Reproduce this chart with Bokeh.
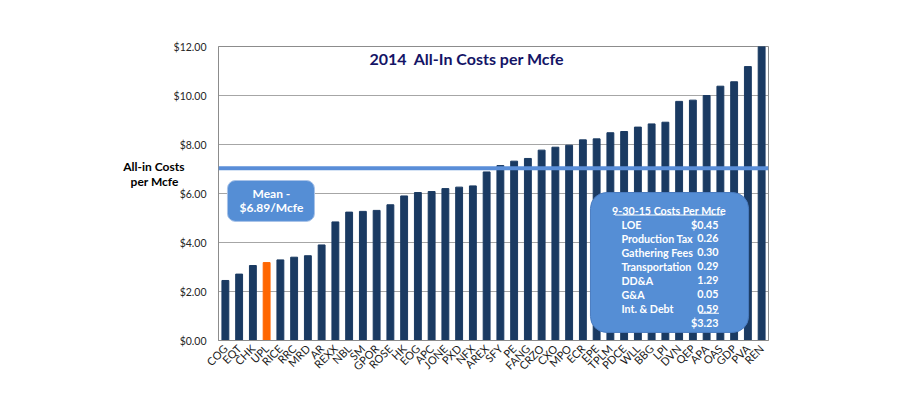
import numpy as np
from bokeh.plotting import figure
from bokeh.models import (Range1d, FixedTicker, NumeralTickFormatter, LinearAxis,
                          Span, Label, BoxAnnotation, ColumnDataSource)
from bokeh.embed import file_html
from bokeh.resources import INLINE

# ---------------- data ----------------
companies = ["COG", "EQT", "CHK", "UPL", "RICE", "RRC", "MRD", "AR", "REXX", "NBL",
             "SM", "GPOR", "ROSE", "HK", "EOG", "APC", "JONE", "PXD", "NFX", "AREX",
             "SFY", "PE", "FANG", "CRZO", "CXO", "MPO", "ECR", "EPE", "TPLM", "PDCE",
             "WLL", "BBG", "LPI", "DVN", "QEP", "APA", "OAS", "GDP", "PVA", "REN"]
costs = [2.45, 2.71, 3.06, 3.18, 3.29, 3.40, 3.46, 3.90, 4.84, 5.24,
         5.27, 5.31, 5.54, 5.90, 6.04, 6.08, 6.20, 6.26, 6.31, 6.88,
         7.14, 7.32, 7.43, 7.77, 7.89, 7.97, 8.19, 8.23, 8.48, 8.53,
         8.71, 8.84, 8.91, 9.76, 9.81, 10.00, 10.38, 10.56, 11.18, 12.00]
highlight = "UPL"
all_in_level = 7.03
mean_text = ["Mean -", "$6.89/Mcfe"]
y_ticks = [0, 2, 4, 6, 8, 10, 12]
side_label_lines = ["All-in Costs", "per Mcfe\u00a0\u00a0"]
breakdown_title = "9-30-15 Costs Per Mcfe"
breakdown_labels = ["LOE", "Production Tax", "Gathering Fees", "Transportation",
                    "DD&A", "G&A", "Int. & Debt"]
breakdown_values = ["$0.45", "0.26", "0.30", "0.29", "1.29", "0.05", "0.59"]
breakdown_total = "$3.23"

# ---------------- styles ----------------
FONT = "Lato"
NAVY = "#1A3A62"
ORANGE = "#FF6600"
BOXBLUE = "#558ED5"

idx = list(range(len(companies)))
colors = [ORANGE if c == highlight else NAVY for c in companies]
src = ColumnDataSource(dict(x=idx, top=costs, color=colors, name=companies))

p = figure(width=900, height=413,
           x_range=Range1d(-0.5, len(companies) - 0.5),
           y_range=Range1d(0, 12),
           output_backend="svg", toolbar_location=None,
           min_border_left=218, min_border_right=132,
           min_border_top=46, min_border_bottom=73)

p.vbar(x="x", top="top", width=0.5, color="color", source=src)

# grid / frame
p.xgrid.visible = False
p.ygrid.ticker = FixedTicker(ticks=y_ticks)
p.ygrid.grid_line_color = "#A6A6A6"
p.outline_line_color = "#8C8C8C"
p.background_fill_color = "white"
p.border_fill_color = "white"

# y axis
p.yaxis.ticker = FixedTicker(ticks=y_ticks)
p.yaxis.formatter = NumeralTickFormatter(format="$0.00")
p.yaxis.major_tick_line_color = None
p.yaxis.minor_tick_line_color = None
p.yaxis.major_tick_out = 0
p.yaxis.major_label_standoff = 12
p.yaxis.axis_line_color = "#8C8C8C"
p.yaxis.major_label_text_font = FONT
p.yaxis.major_label_text_font_size = "10.5px"
p.yaxis.major_label_text_color = "#262626"

# side label ("All-in Costs / per Mcfe") via an extra left axis
side_pos = [7.10, 6.49]
side_axis = LinearAxis(ticker=FixedTicker(ticks=side_pos),
                       major_label_overrides={v: t for v, t in zip(side_pos, side_label_lines)},
                       axis_line_color=None, major_tick_line_color=None,
                       minor_tick_line_color=None, major_tick_out=0,
                       major_label_standoff=-14,
                       major_label_text_font=FONT, major_label_text_font_style="bold",
                       major_label_text_font_size="12px", major_label_text_color="black")
p.add_layout(side_axis, "left")

# x axis
p.xaxis.ticker = FixedTicker(ticks=idx)
p.xaxis.major_label_overrides = {i: c for i, c in zip(idx, companies)}
p.xaxis.major_label_orientation = np.pi / 4
p.xaxis.major_tick_line_color = None
p.xaxis.minor_tick_line_color = None
p.xaxis.major_tick_out = 0
p.xaxis.major_label_standoff = 6
p.xaxis.axis_line_color = "#8C8C8C"
p.xaxis.major_label_text_font = FONT
p.xaxis.major_label_text_font_size = "11px"
p.xaxis.major_label_text_color = "#1a1a1a"

# all-in cost line
p.add_layout(Span(location=all_in_level, dimension="width",
                  line_color="#5A8ED8", line_width=4))

X0 = -0.5  # frame left edge in data units

# title
p.add_layout(Label(x=X0 + 18.07, y=11.5, text="2014\u00a0 All-In Costs per Mcfe",
                   text_align="center", text_baseline="middle",
                   text_font=FONT, text_font_style="bold", text_font_size="16px",
                   text_color="#141466"))

# mean box
p.add_layout(BoxAnnotation(left=X0 + 0.65, right=X0 + 6.98, bottom=4.86, top=6.53,
                           fill_color=BOXBLUE, fill_alpha=1, line_color="#A9C3E8",
                           line_alpha=1, line_width=1, border_radius=8))
for i, t in enumerate(mean_text):
    p.add_layout(Label(x=X0 + 3.85, y=6.0 - i * 0.57, text=t,
                       text_align="center", text_baseline="middle",
                       text_font=FONT, text_font_style="bold", text_font_size="12px",
                       text_color="white"))

# cost breakdown box
p.add_layout(BoxAnnotation(left=X0 + 27.05, right=X0 + 38.55, bottom=0.33, top=6.04,
                           fill_color=BOXBLUE, fill_alpha=1, line_color="#4A7CC0",
                           line_alpha=1, line_width=1, border_radius=16))
row_y0 = 5.31
row_dy = 0.572
lab_kw = dict(text_baseline="middle", text_font=FONT,
              text_font_style="bold", text_font_size="10.7px", text_color="white")
p.add_layout(Label(x=X0 + 32.76, y=row_y0, text=breakdown_title, text_align="center", **lab_kw))
p.add_layout(BoxAnnotation(left=X0 + 28.85, right=X0 + 36.7, bottom=row_y0 - 0.21,
                           top=row_y0 - 0.17, fill_color="white", fill_alpha=1,
                           line_color=None))
for i, (lab, val) in enumerate(zip(breakdown_labels, breakdown_values)):
    yy = row_y0 - (i + 1) * row_dy
    p.add_layout(Label(x=X0 + 29.3, y=yy, text=lab, text_align="left", **lab_kw))
    p.add_layout(Label(x=X0 + 36.36, y=yy, text=val, text_align="right", **lab_kw))
yy_last = row_y0 - len(breakdown_labels) * row_dy
p.add_layout(BoxAnnotation(left=X0 + 34.95, right=X0 + 36.4, bottom=yy_last - 0.21,
                           top=yy_last - 0.17, fill_color="white", fill_alpha=1,
                           line_color=None))
p.add_layout(Label(x=X0 + 36.36, y=yy_last - row_dy, text=breakdown_total,
                   text_align="right", **lab_kw))

open("out.html", "w").write(file_html(p, INLINE))
